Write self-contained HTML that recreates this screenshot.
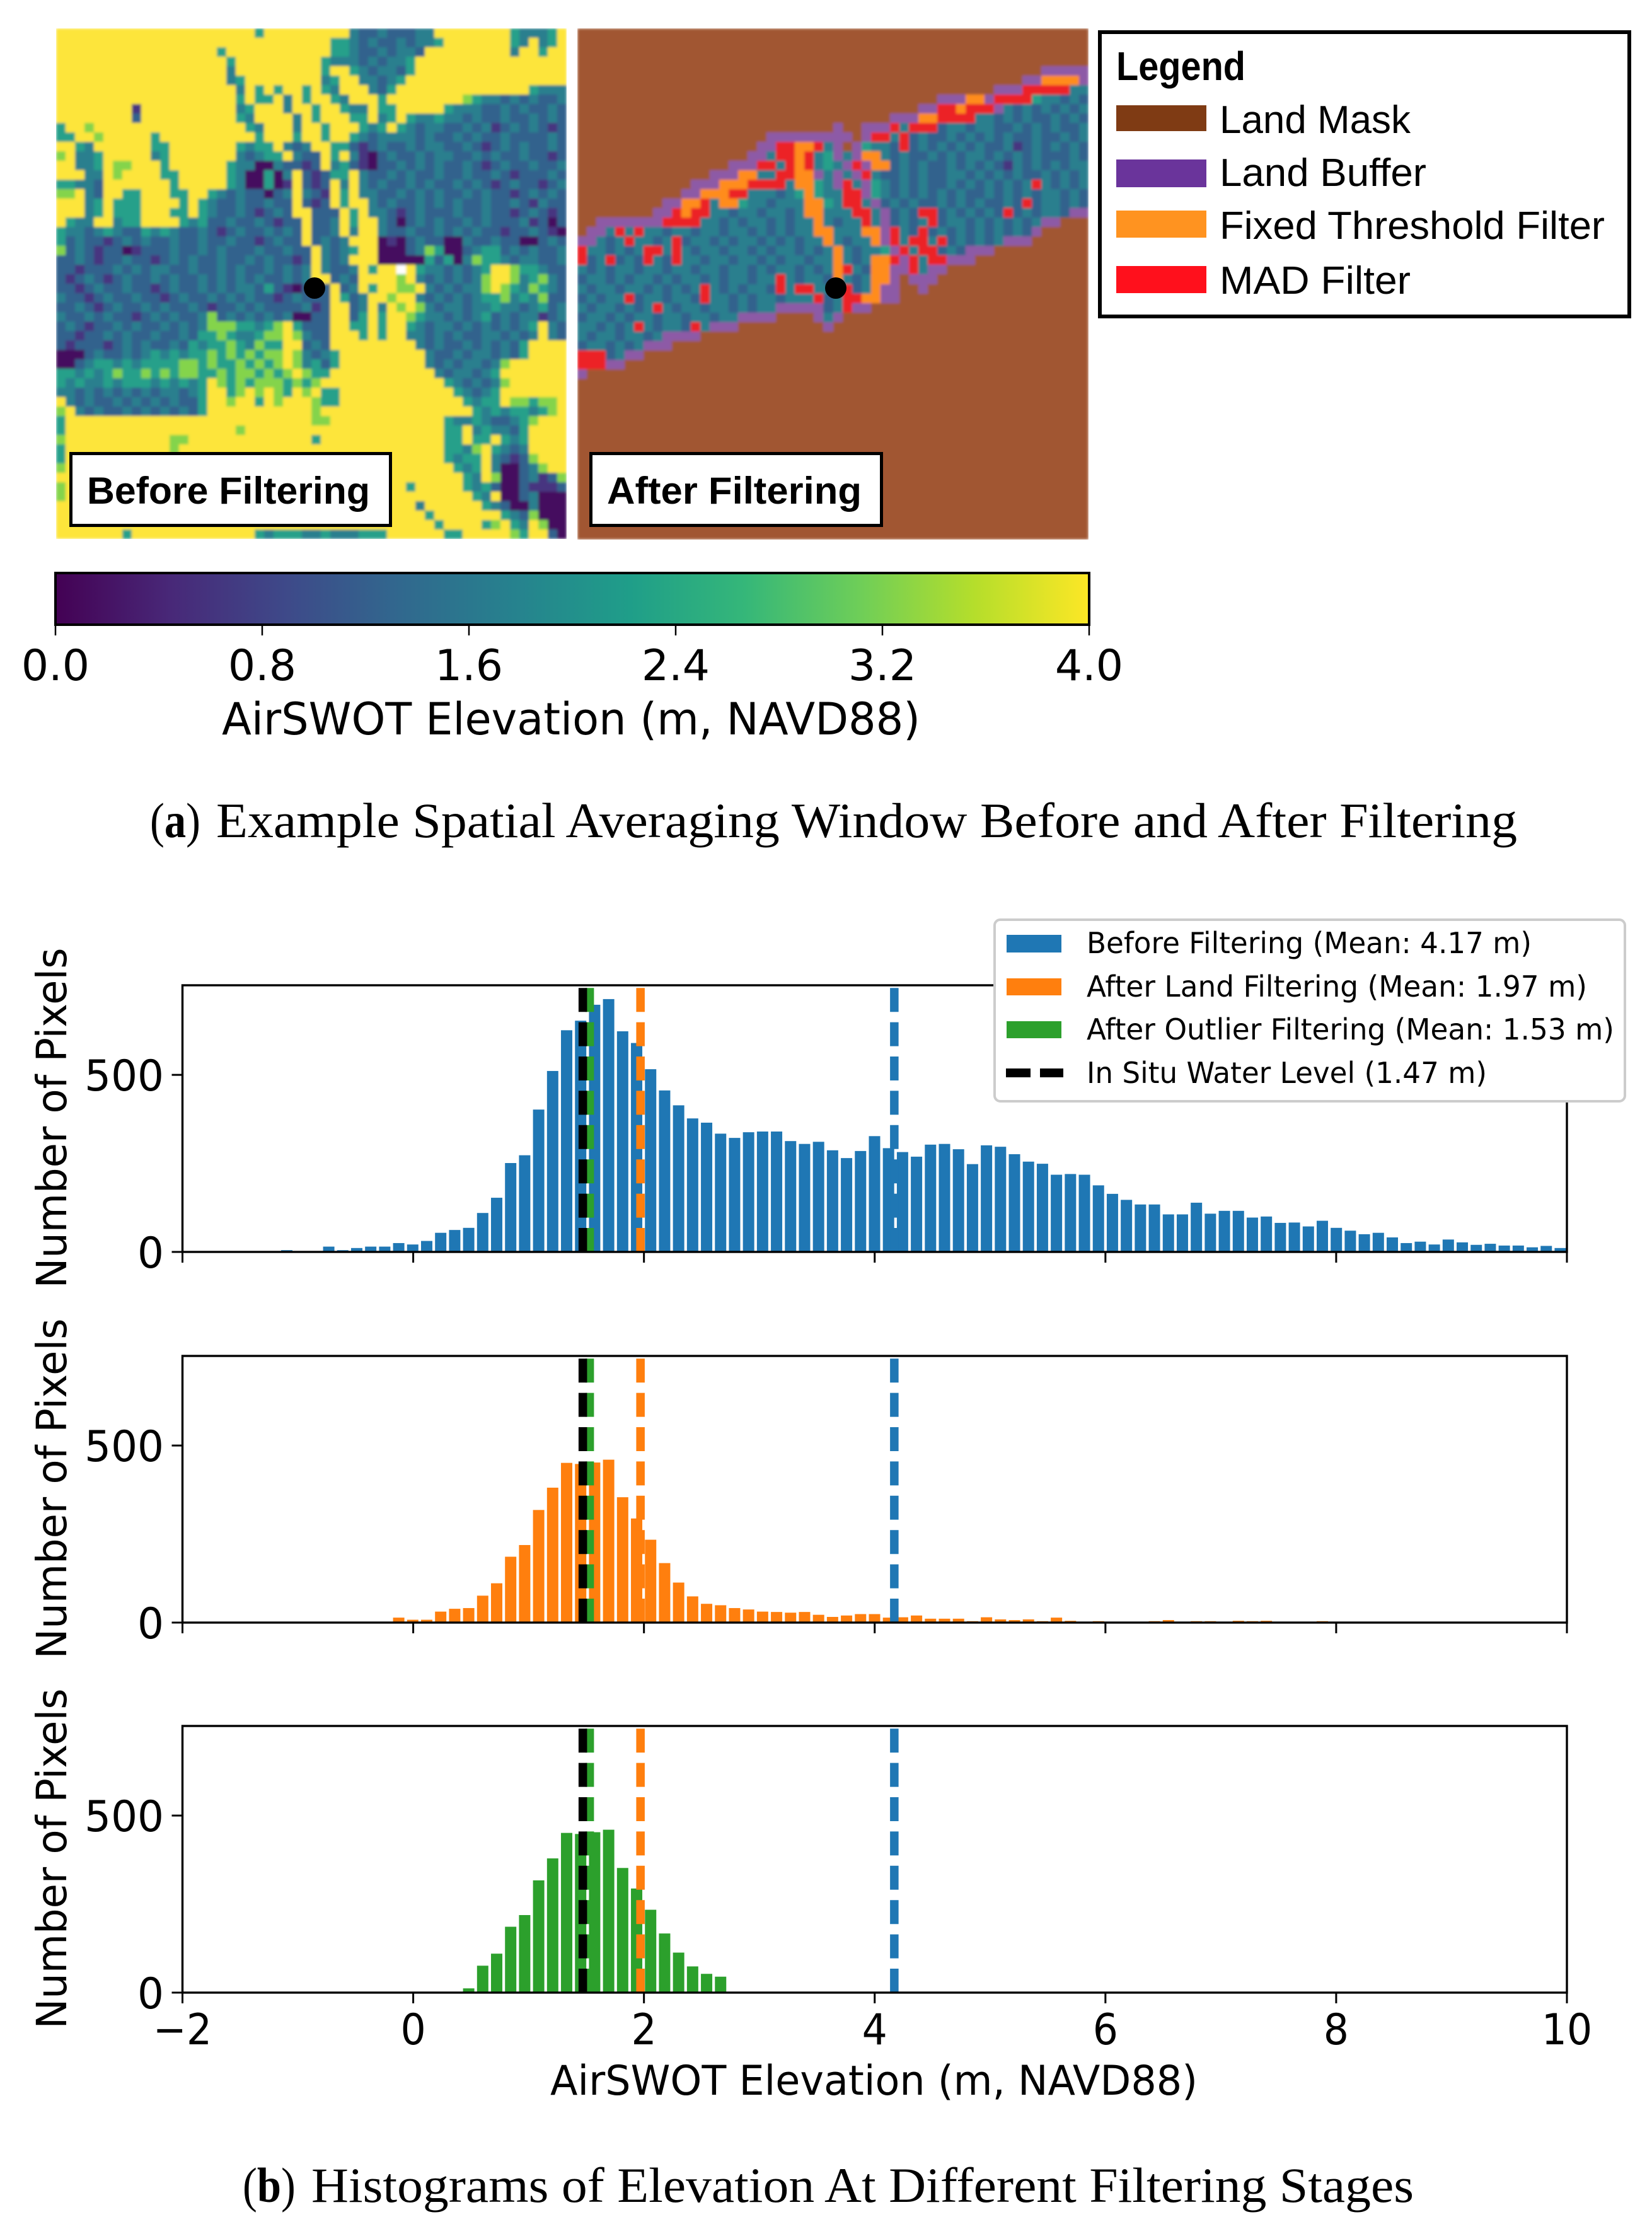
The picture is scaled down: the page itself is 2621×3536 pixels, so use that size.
<!DOCTYPE html>
<html lang="en">
<head>
<meta charset="utf-8">
<title>AirSWOT elevation filtering figure</title>
<style>
html,body{margin:0;padding:0;background:#fff;}
svg{display:block;}
.dj{font-family:"DejaVu Sans","Liberation Sans",sans-serif;fill:#000;}
.ls{font-family:"Liberation Sans",sans-serif;fill:#000;}
.sf{font-family:"Liberation Serif",serif;fill:#000;}
</style>
</head>
<body>
<svg id="fig" xmlns="http://www.w3.org/2000/svg" width="2621" height="3536" viewBox="0 0 2621 3536">
  <defs>
    <linearGradient id="viridis" x1="0" x2="1" y1="0" y2="0">
      <stop offset="0" stop-color="#440154"/><stop offset="0.111" stop-color="#482878"/>
      <stop offset="0.222" stop-color="#3e4989"/><stop offset="0.333" stop-color="#31688e"/>
      <stop offset="0.444" stop-color="#26828e"/><stop offset="0.556" stop-color="#1f9e89"/>
      <stop offset="0.667" stop-color="#35b779"/><stop offset="0.778" stop-color="#6ece58"/>
      <stop offset="0.889" stop-color="#b5de2b"/><stop offset="1" stop-color="#fde725"/>
    </linearGradient>
    <filter id="soften" x="0" y="0" width="100%" height="100%"><feGaussianBlur stdDeviation="2"/></filter>
  </defs>
  <rect width="2621" height="3536" fill="#fff"/>

  <g id="panelBefore" filter="url(#soften)"></g>
  <g id="panelAfter" filter="url(#soften)"></g>

  <circle cx="499" cy="457" r="17" fill="#000"/>
  <circle cx="1326" cy="457" r="17" fill="#000"/>

  <g>
    <rect x="112.5" y="719.5" width="507" height="114" fill="#fff" stroke="#000" stroke-width="5"/>
    <text class="ls" x="138" y="799" font-size="60" font-weight="bold" textLength="449" lengthAdjust="spacingAndGlyphs">Before Filtering</text>
  </g>
  <g>
    <rect x="937.5" y="719.5" width="461" height="114" fill="#fff" stroke="#000" stroke-width="5"/>
    <text class="ls" x="963" y="799" font-size="60" font-weight="bold" textLength="404" lengthAdjust="spacingAndGlyphs">After Filtering</text>
  </g>

  <g>
    <rect x="1745" y="51" width="840" height="451" fill="#fff" stroke="#000" stroke-width="6"/>
    <text class="ls" x="1771" y="127" font-size="64" font-weight="bold" textLength="205" lengthAdjust="spacingAndGlyphs">Legend</text>
    <rect x="1771" y="167" width="143" height="41" fill="#7f3b14"/>
    <text class="ls" x="1935" y="211" font-size="62" textLength="303" lengthAdjust="spacingAndGlyphs">Land Mask</text>
    <rect x="1771" y="253" width="143" height="44" fill="#6a349b"/>
    <text class="ls" x="1935" y="295" font-size="62" textLength="328" lengthAdjust="spacingAndGlyphs">Land Buffer</text>
    <rect x="1771" y="334" width="143" height="43" fill="#ff9320"/>
    <text class="ls" x="1935" y="379" font-size="62" textLength="611" lengthAdjust="spacingAndGlyphs">Fixed Threshold Filter</text>
    <rect x="1771" y="422" width="143" height="43" fill="#ff101c"/>
    <text class="ls" x="1935" y="466" font-size="62" textLength="303" lengthAdjust="spacingAndGlyphs">MAD Filter</text>
  </g>

  <g id="colorbar">
    <rect x="88" y="909" width="1640" height="82" fill="url(#viridis)" stroke="#000" stroke-width="4"/>
  </g>
  <text class="dj" x="352" y="1165" font-size="70" textLength="1108" lengthAdjust="spacingAndGlyphs">AirSWOT Elevation (m, NAVD88)</text>

  <text class="sf" transform="translate(238,1328) scale(.88,1)" font-size="78">(<tspan font-weight="bold">a</tspan>)</text>
  <text class="sf" x="343" y="1328" font-size="78" textLength="2064" lengthAdjust="spacingAndGlyphs">Example Spatial Averaging Window Before and After Filtering</text>

  <g id="histograms"></g>

  <text class="dj" x="873" y="3323" font-size="65" textLength="1027" lengthAdjust="spacingAndGlyphs">AirSWOT Elevation (m, NAVD88)</text>

  <g>
    <rect x="1578" y="1459" width="1000" height="288" rx="9" ry="9" fill="#fff" stroke="#ccc" stroke-width="4"/>
    <rect x="1597" y="1483" width="87" height="28" fill="#1f77b4"/>
    <text class="dj" x="1724" y="1512" font-size="46" textLength="706" lengthAdjust="spacingAndGlyphs">Before Filtering (Mean: 4.17 m)</text>
    <rect x="1597" y="1552" width="87" height="27" fill="#ff7f0e"/>
    <text class="dj" x="1724" y="1581" font-size="46" textLength="794" lengthAdjust="spacingAndGlyphs">After Land Filtering (Mean: 1.97 m)</text>
    <rect x="1597" y="1620" width="87" height="27" fill="#2ca02c"/>
    <text class="dj" x="1724" y="1649" font-size="46" textLength="837" lengthAdjust="spacingAndGlyphs">After Outlier Filtering (Mean: 1.53 m)</text>
    <rect x="1596" y="1695" width="39" height="14" fill="#000"/>
    <rect x="1650" y="1695" width="37" height="14" fill="#000"/>
    <text class="dj" x="1724" y="1718" font-size="46" textLength="635" lengthAdjust="spacingAndGlyphs">In Situ Water Level (1.47 m)</text>
  </g>

  <text class="sf" transform="translate(385,3493) scale(.88,1)" font-size="78">(<tspan font-weight="bold">b</tspan>)</text>
  <text class="sf" x="494" y="3493" font-size="78" textLength="1749" lengthAdjust="spacingAndGlyphs">Histograms of Elevation At Different Filtering Stages</text>
</svg>

<script>
/* ---------- histogram data ---------- */
const binStart = -1.096;
const binWidth = 0.1213;
const beforeCounts = [5,0,0,15,5,11,15,15,25,21,31,54,62,68,110,153,251,273,402,511,626,653,698,714,623,590,516,456,414,377,365,334,322,338,340,340,313,305,311,287,265,285,327,293,282,269,303,305,290,248,301,297,276,255,249,218,220,218,188,164,147,134,134,106,106,139,108,116,116,97,100,82,83,72,88,68,60,50,54,41,25,29,21,35,27,20,23,18,18,13,17,11];
const landCounts = [0,0,0,0,0,0,0,0,14,8,8,31,39,41,76,111,186,219,318,381,451,448,452,460,354,294,234,168,113,74,53,49,41,37,31,30,28,30,22,16,20,24,24,14,15,20,11,11,11,4,15,9,7,9,4,14,5,0,4,0,0,0,4,7,0,4,4,0,5,4,5,0,0,0,4,0,0,0,0,0,0,0,0,0,0,0,0,0,0,0,0,0];
const outlierCounts = [0,0,0,0,0,0,0,0,0,0,0,0,0,12,76,110,186,219,317,379,451,448,453,460,352,294,234,167,113,74,53,45,0,0,0,0,0,0,0,0,0,0,0,0,0,0,0,0,0,0,0,0,0,0,0,0,0,0,0,0,0,0,0,0,0,0,0,0,0,0,0,0,0,0,0,0,0,0,0,0,0,0,0,0,0,0,0,0,0,0,0,0];
const meanValues = [4.17, 1.97, 1.53, 1.47];
const meanNames = ['before-mean-line', 'land-mean-line', 'outlier-mean-line', 'in-situ-level-line'];
const xTickValues = [-2, 0, 2, 4, 6, 8, 10];
const xTickLabels = ['\u22122', '0', '2', '4', '6', '8', '10'];
const yTickValues = [0, 500];
const yTickLabels = ['0', '500'];
const colorbarTickValues = [0, 0.8, 1.6, 2.4, 3.2, 4];
const colorbarTickLabels = ['0.0', '0.8', '1.6', '2.4', '3.2', '4.0'];

/* ---------- heatmap data: one character per raster cell ---------- */
const beforeRows = [
".......... .......... .g........ .tbbtbbbtt ........gt ttg.",
".......... .......... .........g gtbtbbtbtt g.......gt .tg.",
".......... .......g.. .........g gtbbtbttb. ........t. .g..",
".......... ........g. ........gt ttbtbttg.. .......... ....",
".......... ........t. ........g. .gtbttbg.. .......... ....",
".......... ........tg ........tg ..ttbtg... .......... ....",
".......... .........t .g.g..g.gt ...tbg.... .......... gttt",
".......... .........g .gg.t.g..g t...g..... ...lgttbtb tbbt",
"........d. .........t g...t..g.. gtt.gg.... .gtttbbtbt bbtb",
"........b. .........g t....t.g.. .gg.tg.gtt gttbtbbtbb tbtb",
"g..l...... .......... gt...t..g. ..gtg.gtbt tbbtbtdbtb tbdb",
"gg..l..... g......... .g...g..g. .gtbttttbt bbtbtbbtbb bbtb",
"..gt...... gg.......g tgg.tbt..g gbdbtbbtbt tbbtbdbtbt bbtb",
"l.ttg..... tg.......t btgg.tbb.g .tdvbtbbtb ttbbtbtbbt bbdb",
"..ttg.ll.. .g......gt tvvtbbdb.t gbdvbbtbtb tbbtbdbtbb tbbt",
"...tt.l... .gg.....gt vvgvt.bdbg g.tbbtbtbb tbbtbbtbdb bbtb",
"ggttb..... ..g.....gt vvgvd.bdb. t.tbtbbtbt bbtbtbdbtb bdbt",
"ll.tb..gg. ..gg..gtbt bbvbt.tbd. g.ttbbtbtb tbbtbtbbdb tbtb",
"...tg.ggg. ...g.gtbbt bbtbb.bdb. g..tbtbbtb tbtbbtbbtb dtbb",
"...tg.ggg. ..gg.gtbbt bdbtb..bbb .g.ttbdbtb bbtbbtbbdb tbdb",
".gtt..tgg. ...gtgbbtb btbdbb.bbt .g..tbvbtb tbbtbtbbbt dbvb",
"gttbtgtbbg tgtbbtbdbt bbtbtb.bbt .t..tbbtbb tbtbtbbdbb tbdv",
"gbtbbdbtbt bbtbbtbbtb bdbtbb.btb t...vdvbtb bvvtbbtbbv vbtb",
"lbtbdbbvdb bbtbbtbtbb btbbtbb.tb tg..vvvbtl gvvbtggbtb tbbt",
"bbtbdbbtbb dbtbtbbtbb tbtbbdb.tb t...vvvvvg bgvtlggtbt tbbt",
"bbdbbbtbtb ttbbtbbtbt bbtbtbt.tb bt.g..w.gt tbtbtg..lg gtbb",
"bdbtbdbtbb tbtbbtbtbt btbbtbt..b tb....l.tb tbtbtl..lt gltb",
"bbdbtbbtbb dbtbbtbtbt tbgbdvbbb. bt.g..ll.t btbttl.lgt lgtb",
"tbbdbtbbtb bdbtbbtbtb tbbdbtbbb. gbt..l..tb tbtbtggltg tlbb",
"bbtbdbtbbt btbbtbdbbt btbbbbtdb. .bt.t.l.lt bttbttgttb tgbt",
"tbbtbtbbdb tbtbbtlbtb tbtbtvvbb. .bg.g..lgt tbtbtgbtbt tdbt",
"btbdbbtbtb btbtbtlllg gtgl.gbbb. .gg.g..gtb ttbtbtbtbt g.tb",
"bbdbbtbtbb tbbtbgglgt tgll.ltbb. ..g.g..ttb tbtbbttbtb t.tb",
"bdbbbdbtbt bbtbgtgglg tlgg..btb. ........tb tbbtbtbtbg ....",
"vvvbtbbtbt gtgtgglglg lgll.ltbtg .........t bbtbttbtbg ....",
"vvbtggtgtg gggllglggl glgl.ltgbg .........t btbttbtl.. ....",
"ggtgtglggl glgllgglgl lglgl.lgg. .......... tbttbtg... ....",
"gtgttgtggg tgtgtg.lgl glllglgl.. .......... .gtbtbtl.. ....",
"ttbtbtbtbt bttbtg..gl .l.lg.l.gg .......... ..gtbtg... ....",
".tbtbbtbtb tbtbbg..l. .g.l...lgg .......... ...gtgg.ll gll.",
"l.tbtbbtbt btbtbg.... .......l.. .......... ....gtgtgg tgl.",
"g......... .......... .......ll. .......... .gttgtbbtg l...",
"g......... .........l .......... .......... .gg.tgttbg ....",
"l......... ..ll...... .......g.. .......... .gg.gg.gtg ....",
"g......... ..l....... .......... .......... .ggtl.gtbt ....",
"g......... .......... .......... .......... .gtgg.tbdb l...",
"l......... .......... .......... .......... ..gtg.tvvb tl..",
".......... .......... .......... .......... ...gt.lvvb tdbl",
"l......... .......... .......... .......g.. ...gtgbvvb dddb",
"l......... .......... .......... .......... ....gt.vvb tvvv",
".......... .......... .......... ........t. .....gtbvv tvvv",
".......... .......... .......... .........g .......gtb lvvv",
".......... .......... .......... .......... g....gl.gt .lvv",
".......g.. .......... .gtgggttgt ttggg..... .gg.....lg ..bv"
];
const afterRows = [
"nnnnnnnnnn nnnnnnnnnn nnnnnnnnnn nnnnnnnnnn nnnnnnnnnn nnnn",
"nnnnnnnnnn nnnnnnnnnn nnnnnnnnnn nnnnnnnnnn nnnnnnnnnn nnnn",
"nnnnnnnnnn nnnnnnnnnn nnnnnnnnnn nnnnnnnnnn nnnnnnnnnn nnnn",
"nnnnnnnnnn nnnnnnnnnn nnnnnnnnnn nnnnnnnnnn nnnnnnnnnn nnnn",
"nnnnnnnnnn nnnnnnnnnn nnnnnnnnnn nnnnnnnnnn nnnnnnnnnp pppp",
"nnnnnnnnnn nnnnnnnnnn nnnnnnnnnn nnnnnnnnnn nnnnnnnppo ooop",
"nnnnnnnnnn nnnnnnnnnn nnnnnnnnnn nnnnnnnnnn nnnnppprrr rrtt",
"nnnnnnnnnn nnnnnnnnnn nnnnnnnnnn nnnnnnnnpp pooprrrrgt tbtb",
"nnnnnnnnnn nnnnnnnnnn nnnnnnnnnn nnnnnnpprr orrrptbtbt btbt",
"nnnnnnnnnn nnnnnnnnnn nnnnnnnnnn nnnpppoorr rrttbtbtbb tbtb",
"nnnnnnnnnn nnnnnnnnnn nnnnnnnpnn ppprtrrrbt tbttbbtbtb tbbt",
"nnnnnnnnnn nnnnnnnnnn pppppppppn prrtrbtbbt btbtbtbbtb btbt",
"nnnnnnnnnn nnnnnnnnnp prroortpnp gttbrbtbtb tbtbbtdbtb tbtb",
"nnnnnnnnnn nnnnnnnnpp trrortgptp ootbtbbtbt bttbtbtbtb bbtb",
"nnnnnnnnnn nnnnnnpppr rtrortgtpr poobtbtbbt btbtbdtbtb tbtt",
"nnnnnnnnnn nnnnpppoot trrooptptp rtbbtbtbbt tbtbtbtbbt btbt",
"nnnnnnnnnn nnpppooorr rrtoogtprt pgtbtbtbbt btbtbtbtrt btbt",
"nnnnnnnnnn nppooorrtt tbtgogttrr pgtbtbtbtb tbbtbtbtbt tbtb",
"nnnnnnnnnp poortoogtt btttoogtrr tpbtbtbbtb tbtbbtbrbt tbtb",
"nnnnnnnnpp rorrttbttb ttbtootttr rtpbtbrrbt btbtbrbtbt tbpp",
"nnpppppppr rrrttbtbtt btbttotbtt rtpbtbtrbt tbtbtbtbtp pnnn",
"npptrtrttb ttbttbttbt btbttoottt ooprtbrbtb tbtbtbtbpn nnnn",
"pptbtrttbt rbttbtbttb tbtbttotbt toprtrrtrb tbtbtpppnn nnnn",
"rttbtbtrrt rtbttbttbt bttbtbtotb ttgprtrrbt bpppnnnnnn nnnn",
"rbtrbtbrtb rttbttbttb tbttbttotb toorprtrrp ppnnnnnnnn nnnn",
"tbtbttbttb ttbttbtttbt".replace('tttbt','ttbt') + " bttbtbtort boopprtppn nnnnnnnnnn nnnn",
"bttbtbttbt bttbtbttbt trtbttbotb toopnpppnn nnnnnnnnnn nnnn",
"tbttbttbtb tbtrtbtbtt brtrrttbrb toppnnpnnn nnnnnnnnnn nnnn",
"btbttrbttb ttbrttbtbt tbtttrbtrr ooppnnnnnn nnnnnnnnnn nnnn",
"tbttbtbtrt bttbttbtbt tpppppbtrp pnnnnnnnnn nnnnnnnnnn nnnn",
"bttbtbttbt tbttbttppp pnnnnptpnn nnnnnnnnnn nnnnnnnnnn nnnn",
"ttbtbtrtbt tbrtpppnnn nnnnnnpnnn nnnnnnnnnn nnnnnnnnnn nnnn",
"tbttbttbtp pppnnnnnnn nnnnnnnnnn nnnnnnnnnn nnnnnnnnnn nnnn",
"bttbtbtppp nnnnnnnnnn nnnnnnnnnn nnnnnnnnnn nnnnnnnnnn nnnn",
"rrrbtppnnn nnnnnnnnnn nnnnnnnnnn nnnnnnnnnn nnnnnnnnnn nnnn",
"rrrppnnnnn nnnnnnnnnn nnnnnnnnnn nnnnnnnnnn nnnnnnnnnn nnnn",
"pnnnnnnnnn nnnnnnnnnn nnnnnnnnnn nnnnnnnnnn nnnnnnnnnn nnnn",
"nnnnnnnnnn nnnnnnnnnn nnnnnnnnnn nnnnnnnnnn nnnnnnnnnn nnnn",
"nnnnnnnnnn nnnnnnnnnn nnnnnnnnnn nnnnnnnnnn nnnnnnnnnn nnnn",
"nnnnnnnnnn nnnnnnnnnn nnnnnnnnnn nnnnnnnnnn nnnnnnnnnn nnnn",
"nnnnnnnnnn nnnnnnnnnn nnnnnnnnnn nnnnnnnnnn nnnnnnnnnn nnnn",
"nnnnnnnnnn nnnnnnnnnn nnnnnnnnnn nnnnnnnnnn nnnnnnnnnn nnnn",
"nnnnnnnnnn nnnnnnnnnn nnnnnnnnnn nnnnnnnnnn nnnnnnnnnn nnnn",
"nnnnnnnnnn nnnnnnnnnn nnnnnnnnnn nnnnnnnnnn nnnnnnnnnn nnnn",
"nnnnnnnnnn nnnnnnnnnn nnnnnnnnnn nnnnnnnnnn nnnnnnnnnn nnnn",
"nnnnnnnnnn nnnnnnnnnn nnnnnnnnnn nnnnnnnnnn nnnnnnnnnn nnnn",
"nnnnnnnnnn nnnnnnnnnn nnnnnnnnnn nnnnnnnnnn nnnnnnnnnn nnnn",
"nnnnnnnnnn nnnnnnnnnn nnnnnnnnnn nnnnnnnnnn nnnnnnnnnn nnnn",
"nnnnnnnnnn nnnnnnnnnn nnnnnnnnnn nnnnnnnnnn nnnnnnnnnn nnnn",
"nnnnnnnnnn nnnnnnnnnn nnnnnnnnnn nnnnnnnnnn nnnnnnnnnn nnnn",
"nnnnnnnnnn nnnnnnnnnn nnnnnnnnnn nnnnnnnnnn nnnnnnnnnn nnnn",
"nnnnnnnnnn nnnnnnnnnn nnnnnnnnnn nnnnnnnnnn nnnnnnnnnn nnnn",
"nnnnnnnnnn nnnnnnnnnn nnnnnnnnnn nnnnnnnnnn nnnnnnnnnn nnnn",
"nnnnnnnnnn nnnnnnnnnn nnnnnnnnnn nnnnnnnnnn nnnnnnnnnn nnnn"
];

const NS = 'http://www.w3.org/2000/svg';
const cellColors = {'.':'#fde53a', l:'#84d44b', g:'#28a08a', t:'#2a7f8e', b:'#33628d', d:'#463480', v:'#440d5e', w:'#ffffff', n:'#a15630', p:'#8d5aa6', o:'#ff8c1c', r:'#ec2226'};

function node(tag, attrs, parent) {
  const el = document.createElementNS(NS, tag);
  for (const k in attrs) el.setAttribute(k, attrs[k]);
  parent.appendChild(el);
  return el;
}

function drawRaster(rows, group, left, top, size) {
  const cell = size / 54;
  rows.forEach(function (row, r) {
    const chars = row.replace(/ /g, '');
    for (let c = 0; c < chars.length; c++) {
      const x0 = Math.round(left + c * cell);
      const x1 = Math.round(left + (c + 1) * cell);
      const y0 = Math.round(top + r * cell);
      const y1 = Math.round(top + (r + 1) * cell);
      const rect = node('rect', {x: x0, y: y0, width: x1 - x0, height: y1 - y0, fill: cellColors[chars[c]]}, group);
      
      
    }
  });
}
drawRaster(beforeRows, document.getElementById('panelBefore'), 89, 45, 810);
drawRaster(afterRows, document.getElementById('panelAfter'), 916, 45, 811);

/* colorbar ticks */
const cbarGroup = document.getElementById('colorbar');
function cbarX(v) { return 88 + v / 4 * 1640; }
colorbarTickValues.forEach(function (v, i) {
  const tick = node('line', {x1: cbarX(v), x2: cbarX(v), y1: 991, y2: 1008, stroke: '#000', 'stroke-width': 2.5}, cbarGroup);
  
  
  const label = node('text', {'class': 'dj', 'font-size': 68, 'text-anchor': 'middle', transform: 'translate(' + cbarX(v) + ',1079) scale(1,1)'}, cbarGroup);
  label.textContent = colorbarTickLabels[i];
  
  
});

/* histograms */
const AX_LEFT = 289.5, AX_RIGHT = 2486, AX_HEIGHT = 423, Y_MAX = 753;
const lineColors = ['#1f77b4', '#ff7f0e', '#2ca02c', '#000000'];
function xScale(v) { return AX_LEFT + (v + 2) / 12 * (AX_RIGHT - AX_LEFT); }
function yScale(v, bottom) { return bottom - v / Y_MAX * AX_HEIGHT; }

function drawAxes(counts, color, bottom, name, showXLabels) {
  const host = document.getElementById('histograms');
  const g = node('g', {}, host);
  
  
  const top = bottom - AX_HEIGHT;

  counts.forEach(function (value, k) {
    if (!value) return;
    const center = xScale(binStart + binWidth * k);
    const bar = node('rect', {x: center - 9, y: yScale(value, bottom), width: 18, height: bottom - yScale(value, bottom), fill: color}, g);
    
    
  });

  meanValues.forEach(function (value, i) {
    const line = node('line', {x1: xScale(value), x2: xScale(value), y1: bottom, y2: yScale(746, bottom), stroke: lineColors[i], 'stroke-width': 13.5, 'stroke-dasharray': '38 16.4'}, g);
    
    
  });

  const frame = node('rect', {x: AX_LEFT, y: top, width: AX_RIGHT - AX_LEFT, height: AX_HEIGHT, fill: 'none', stroke: '#000', 'stroke-width': 3.4}, g);
  
  

  xTickValues.forEach(function (v, i) {
    const tick = node('line', {x1: xScale(v), x2: xScale(v), y1: bottom, y2: bottom + 17, stroke: '#000', 'stroke-width': 3}, g);
    
    
    if (showXLabels) {
      const t = node('text', {'class': 'dj', 'font-size': 68, 'text-anchor': 'middle', transform: 'translate(' + xScale(v) + ',3243) scale(.93,1)'}, g);
      t.textContent = xTickLabels[i];
      
      
    }
  });

  yTickValues.forEach(function (v, i) {
    const y = yScale(v, bottom);
    const tick = node('line', {x1: AX_LEFT - 17, x2: AX_LEFT, y1: y, y2: y, stroke: '#000', 'stroke-width': 3}, g);
    
    
    const t = node('text', {'class': 'dj', 'font-size': 68, 'text-anchor': 'end', transform: 'translate(260,' + (y + 25) + ') scale(.97,1)'}, g);
    t.textContent = yTickLabels[i];
    
    
  });

  const yTitle = node('text', {'class': 'dj', 'font-size': 66, 'text-anchor': 'middle', textLength: 540, lengthAdjust: 'spacingAndGlyphs', transform: 'translate(105,' + (top + AX_HEIGHT / 2 - 1) + ') rotate(-90)'}, g);
  yTitle.textContent = 'Number of Pixels';
  
  
}

drawAxes(beforeCounts, '#1f77b4', 1986, 'before-filtering-histogram', false);
drawAxes(landCounts, '#ff7f0e', 2574, 'after-land-filtering-histogram', false);
drawAxes(outlierCounts, '#2ca02c', 3161, 'after-outlier-filtering-histogram', true);
</script>
</body>
</html>
